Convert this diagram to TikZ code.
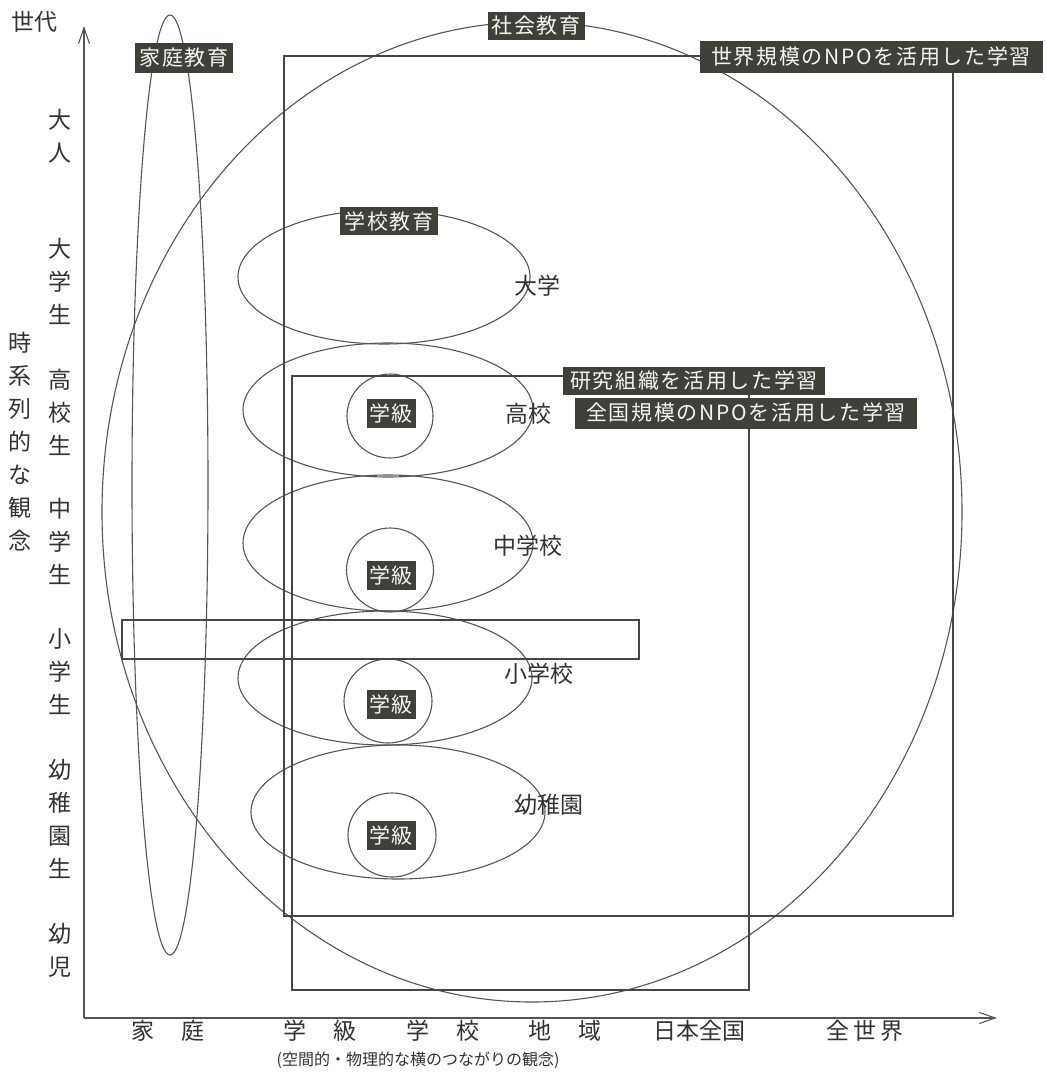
\documentclass[tikz,border=0pt]{standalone}
\usepackage{fontspec}
\newfontfamily\jpfont{Noto Sans CJK JP}
\newfontfamily\jptagfont[LetterSpace=8]{Noto Sans CJK JP}
\usetikzlibrary{shapes.geometric,arrows.meta}
\definecolor{ink}{RGB}{50,50,50}
\definecolor{lineink}{RGB}{85,85,85}
\definecolor{frameink}{RGB}{70,70,70}
\definecolor{tagbg}{RGB}{62,64,58}
\definecolor{tagfg}{RGB}{246,246,240}
\begin{document}
\begin{tikzpicture}[x=1pt,y=-1pt,
  every node/.style={inner sep=0pt, outer sep=0pt, text=ink, font=\jpfont\fontsize{23}{26}\selectfont},
  tag/.style={fill=tagbg, text=tagfg, font=\jptagfont\fontsize{21}{24}\selectfont},
  oval/.style={draw=lineink, line width=1.1pt, ellipse},
  frame/.style={draw=frameink, line width=2.6pt, rectangle},
  axis/.style={draw=lineink, line width=1.2pt, -{Straight Barb[length=16pt,width=11pt,line width=1.1pt]}},
  stack/.style={align=center, font=\jpfont\fontsize{23}{33}\selectfont},
  axlabel/.style={font=\jpfont\fontsize{23}{26}\selectfont}
]
\useasboundingbox (0,0) rectangle (1046,1073);

% axes
\coordinate (O) at (84,1018);
\coordinate (ytop) at (84,26);
\coordinate (xend) at (997,1018);
\draw[axis] (O) -- (ytop);
\draw[axis] (O) -- (xend);

% large ellipses
\node[oval, minimum width=860pt, minimum height=980pt] (society) at (532,512) {};
\node[oval, minimum width=76pt, minimum height=940pt] (family) at (170,485) {};

% school ellipses
\node[oval, minimum width=292pt, minimum height=134pt] (univ) at (384,277) {};
\node[oval, minimum width=290pt, minimum height=134pt] (high) at (388,410) {};
\node[oval, minimum width=290pt, minimum height=136pt] (junior) at (388,543) {};
\node[oval, minimum width=294pt, minimum height=134pt] (elem) at (385,678) {};
\node[oval, minimum width=294pt, minimum height=134pt] (kinder) at (398,812) {};

% class circles
\node[oval, minimum width=86pt, minimum height=84pt] (c1) at (390,416) {};
\node[oval, minimum width=87pt, minimum height=84pt] (c2) at (390,570) {};
\node[oval, minimum width=88pt, minimum height=84pt] (c3) at (388,701) {};
\node[oval, minimum width=88pt, minimum height=84pt] (c4) at (392,835) {};

% rectangles
\node[frame, minimum width=669pt, minimum height=860pt] (worldbox) at (618.5,486) {};
\node[frame, minimum width=457pt, minimum height=614pt] (natbox) at (520.5,683) {};
\node[frame, minimum width=517pt, minimum height=39pt] (elembar) at (380.5,639.5) {};

% dark tags
\node[tag, minimum width=98pt, minimum height=30pt] (tfamily) at (184,58) {家庭教育};
\node[tag, minimum width=97pt, minimum height=28pt] (tsociety) at (536,26) {社会教育};
\node[tag, minimum width=343pt, minimum height=31pt] (tworld) at (871,57) {世界規模のNPOを活用した学習};
\node[tag, minimum width=98pt, minimum height=28pt] (tschool) at (389,221) {学校教育};
\node[tag, minimum width=262pt, minimum height=28pt] (tresearch) at (694,381) {研究組織を活用した学習};
\node[tag, minimum width=342pt, minimum height=31pt] (tnational) at (746,413) {全国規模のNPOを活用した学習};
\node[tag, minimum width=49pt, minimum height=29pt] (k1) at (391,413) {学級};
\node[tag, minimum width=49pt, minimum height=29pt] (k2) at (391,575) {学級};
\node[tag, minimum width=49pt, minimum height=29pt] (k3) at (391,704) {学級};
\node[tag, minimum width=49pt, minimum height=29pt] (k4) at (391,835) {学級};

% school names
\node (nuniv) at (537,286) {大学};
\node (nhigh) at (528,414) {高校};
\node (njunior) at (528,546) {中学校};
\node (nelem) at (539,674) {小学校};
\node (nkinder) at (549,805) {幼稚園};

% vertical axis labels
\node (gen) at (35,22) {世代};
\node[stack] (adult) at (60,136) {大\\人};
\node[stack] (student) at (60,281) {大\\学\\生};
\node[stack] (hs) at (60,412) {高\\校\\生};
\node[stack] (js) at (60,541) {中\\学\\生};
\node[stack] (es) at (60,672) {小\\学\\生};
\node[stack] (ks) at (60,819) {幼\\稚\\園\\生};
\node[stack] (infant) at (60,950) {幼\\児};
\node[stack] (timeconcept) at (20,442) {時\\系\\列\\的\\な\\観\\念};

% horizontal axis labels
\node[axlabel] (hfam) at (168,1031) {家\hspace{27pt}庭};
\node[axlabel] (hclass) at (320,1031) {学\hspace{27pt}級};
\node[axlabel] (hschool) at (443,1031) {学\hspace{27pt}校};
\node[axlabel] (hregion) at (565,1031) {地\hspace{27pt}域};
\node[axlabel] (hjapan) at (699,1031) {日本全国};
\node[axlabel] (hworld) at (865,1031) {全\hspace{4pt}世\hspace{4pt}界};
\node[font=\jpfont\fontsize{16}{20}\selectfont] (hsub) at (418,1060) {(空間的・物理的な横のつながりの観念)};
\end{tikzpicture}
\end{document}
